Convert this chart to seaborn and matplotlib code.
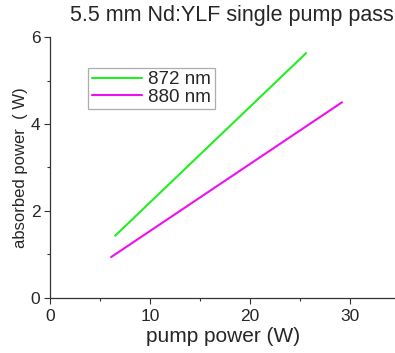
import pandas as pd
import seaborn as sns
import matplotlib.pyplot as plt
from matplotlib.ticker import MultipleLocator

# Data (straight fits, endpoints only)
pump_872 = [6.5, 25.6]
absorbed_872 = [1.43, 5.63]
pump_880 = [6.1, 29.2]
absorbed_880 = [0.94, 4.50]
series_names = ["872 nm", "880 nm"]
series_colors = ["#22ee22", "#ee11ee"]

df = pd.concat([
    pd.DataFrame({"pump": pump_872, "absorbed": absorbed_872, "line": series_names[0]}),
    pd.DataFrame({"pump": pump_880, "absorbed": absorbed_880, "line": series_names[1]}),
])

sns.set_style("ticks")
plt.rcParams["font.family"] = ["Liberation Sans", "DejaVu Sans"]

fig = plt.figure(figsize=(3.95, 3.53), dpi=100)
ax = fig.add_axes([0.127, 0.156, 0.873, 0.739])

sns.lineplot(data=df, x="pump", y="absorbed", hue="line", palette=series_colors,
             linewidth=1.5, ax=ax, estimator=None, sort=False)

ax.set_xlim(0, 34.5)
ax.set_ylim(0, 6)
ax.xaxis.set_major_locator(MultipleLocator(10))
ax.xaxis.set_minor_locator(MultipleLocator(5))
ax.yaxis.set_major_locator(MultipleLocator(2))
ax.yaxis.set_minor_locator(MultipleLocator(1))
ax.tick_params(which="major", length=4, width=0.8, labelsize=12.5, color="#333333")
ax.tick_params(axis="x", which="major", pad=4)
ax.tick_params(axis="y", which="major", pad=3)
ax.tick_params(which="minor", length=2.5, width=0.8, color="#333333")
for s in ["top", "right"]:
    ax.spines[s].set_visible(False)
for s in ["left", "bottom"]:
    ax.spines[s].set_color("#333333")
    ax.spines[s].set_linewidth(0.9)

ax.set_xlabel("pump power (W)", fontsize=15, labelpad=2)
ax.set_ylabel("absorbed power  ( W)", fontsize=12, labelpad=2)

leg = ax.legend(loc="upper left", bbox_to_anchor=(0.11, 0.883), fontsize=13.5,
                frameon=True, fancybox=False, handlelength=2.7, handletextpad=0.3,
                borderpad=0.2, labelspacing=0.0, borderaxespad=0)
leg.get_frame().set_edgecolor("#999999")
leg.get_frame().set_linewidth(0.9)
leg.set_title(None)

fig.text(0.177, 0.925, "5.5 mm Nd:YLF single pump pass", fontsize=15.5, ha="left", va="bottom")

fig.savefig("out.png", dpi=100)
